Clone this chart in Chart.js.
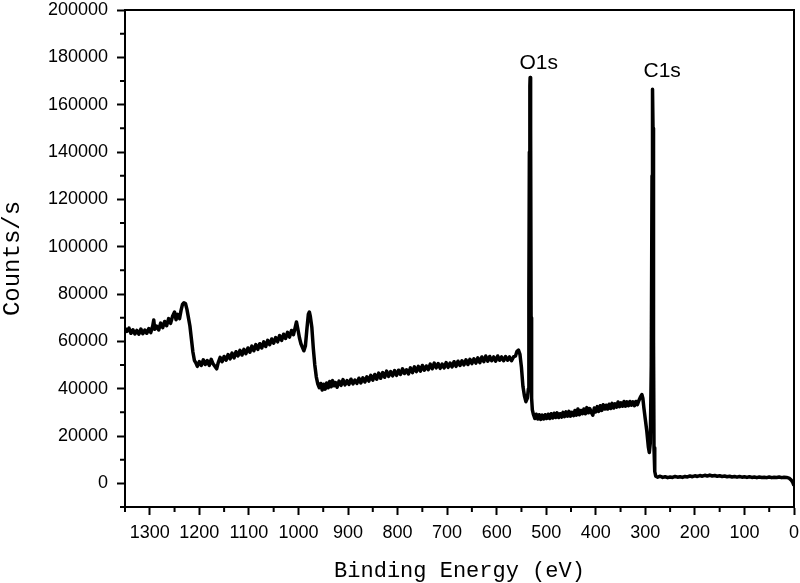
<!DOCTYPE html>
<html>
<head>
<meta charset="utf-8">
<script src="https://cdn.jsdelivr.net/npm/chart.js@4.4.0/dist/chart.umd.min.js"></script>
<style>
  html, body { margin: 0; padding: 0; background: #fff; }
  canvas { display: block; }
</style>
</head>
<body>
<canvas id="espectroXPS" width="800" height="583"></canvas>
<script>
// === Dados do espectro ===
const energia = [
  1350, 1346, 1342, 1338, 1334, 1330, 1326, 1322, 1318, 1314,
  1310, 1306, 1302, 1298, 1294, 1292, 1290, 1286, 1282, 1278,
  1274, 1270, 1266, 1262, 1258, 1254, 1250, 1247, 1244, 1240,
  1237, 1234, 1231, 1228, 1225, 1222, 1219, 1216, 1213, 1210,
  1207, 1204, 1200, 1196, 1192, 1188, 1184, 1180, 1176, 1172,
  1168, 1165, 1162, 1158, 1154, 1150, 1146, 1142, 1138, 1134,
  1130, 1126, 1122, 1118, 1114, 1110, 1106, 1102, 1098, 1094,
  1090, 1086, 1082, 1078, 1074, 1070, 1066, 1062, 1058, 1054,
  1050, 1046, 1042, 1038, 1034, 1030, 1026, 1022, 1018, 1014,
  1010, 1007, 1004, 1001, 998, 995, 992, 989, 986, 983,
  980, 978, 976, 973, 970, 967, 964, 961, 958, 955,
  952, 949, 946, 943, 940, 937, 934, 931, 928, 925,
  922, 918, 914, 910, 906, 902, 898, 894, 890, 886,
  882, 878, 874, 870, 866, 862, 858, 854, 850, 846,
  842, 838, 834, 830, 826, 822, 818, 814, 810, 806,
  802, 798, 794, 790, 786, 782, 778, 774, 770, 766,
  762, 758, 754, 750, 746, 742, 738, 734, 730, 726,
  722, 718, 714, 710, 706, 702, 698, 694, 690, 686,
  682, 678, 674, 670, 666, 662, 658, 654, 650, 646,
  642, 638, 634, 630, 626, 622, 618, 614, 610, 606,
  602, 598, 594, 590, 586, 582, 578, 574, 570, 566,
  562, 559, 556, 553, 550, 547, 544, 541, 538, 536,
  535, 534, 533, 532.5, 531.5, 530.5, 529.5, 528, 526, 523,
  520, 517, 514, 511, 508, 505, 502, 499, 496, 493,
  490, 487, 484, 481, 478, 475, 472, 469, 466, 463,
  460, 457, 454, 451, 448, 445, 442, 439, 436, 433,
  430, 427, 424, 421, 418, 415, 412, 409, 406, 403,
  400, 397, 394, 391, 388, 385, 382, 379, 376, 373,
  370, 367, 364, 361, 358, 355, 352, 349, 346, 343,
  340, 337, 334, 331, 328, 325, 322, 319, 316, 313,
  310, 307, 305, 303, 300, 297, 294, 292, 290, 288,
  286.5, 285.5, 284.5, 283.5, 282.5, 281, 279, 275, 270, 265,
  260, 255, 250, 245, 240, 235, 230, 225, 220, 215,
  210, 205, 200, 195, 190, 185, 180, 175, 170, 165,
  160, 155, 150, 145, 140, 135, 130, 125, 120, 115,
  110, 105, 100, 95, 90, 85, 80, 75, 70, 65,
  60, 55, 50, 45, 40, 35, 30, 25, 20, 15,
  10, 6, 3, 0
];

const contagens = [
  65500, 64200, 65600, 63400, 64900, 63100, 64600, 63000, 65200, 63200,
  64800, 63400, 65400, 63700, 66600, 69000, 65100, 66400, 64800, 67700,
  65800, 68400, 66600, 69600, 67600, 70600, 72400, 69100, 71400, 69600,
  73000, 75600, 76300, 76000, 73500, 70000, 66500, 61000, 55500, 52000,
  50900, 49400, 51400, 49800, 52200, 50200, 51900, 49800, 52400, 50400,
  49300, 48400, 50900, 53200, 51400, 53600, 52000, 54400, 52600, 55000,
  53000, 55600, 53800, 56200, 54200, 56600, 54800, 57200, 55400, 58000,
  56000, 58600, 56600, 59000, 57200, 59800, 57800, 60400, 58600, 61000,
  59200, 61600, 59800, 62400, 60400, 63000, 61200, 63800, 61800, 64600,
  62800, 65500, 68200, 65000, 61500, 59000, 57500, 56000, 58000, 65000,
  71500, 72400, 70500, 66000, 57000, 50000, 45000, 42000, 40400, 42200,
  39400, 41900, 39800, 42400, 40400, 43000, 40800, 43400, 41200, 42600,
  40600, 43200, 41400, 43800, 41600, 43400, 41800, 44000, 42000, 43600,
  42200, 44400, 42400, 44600, 42800, 45000, 43200, 45600, 43600, 46000,
  44000, 46600, 44400, 46800, 44800, 47400, 45200, 47200, 45400, 47600,
  45600, 47800, 46000, 48400, 46400, 48000, 46200, 48800, 46800, 49200,
  47200, 49400, 47400, 49800, 47800, 49600, 48000, 50400, 48400, 50800,
  48800, 50600, 48600, 50400, 48800, 51000, 49000, 50800, 49200, 51400,
  49400, 51600, 49800, 51800, 50000, 52200, 50200, 52400, 50600, 52600,
  50800, 53000, 51000, 53400, 51400, 53800, 51600, 53600, 51800, 53400,
  51600, 53800, 52000, 53400, 51800, 53600, 52000, 53400, 51800, 53400,
  53800, 55800, 56300, 54500, 49000, 41000, 37000, 34500, 36000, 40000,
  80000, 140000, 168000, 171500, 150000, 70000, 36000, 31000, 29200, 27400,
  29200, 27200, 29000, 27000, 28800, 27200, 29000, 27400, 29200, 27400,
  29400, 27600, 29600, 27800, 29800, 27800, 29400, 28000, 30000, 28200,
  30200, 28400, 30400, 28400, 30000, 28600, 30800, 28800, 31400, 29000,
  30800, 29400, 31400, 29400, 32000, 29800, 31600, 30000, 28800, 31800,
  30200, 32400, 30400, 32800, 30800, 33200, 31400, 33000, 31400, 33400,
  31600, 33800, 31800, 33600, 32200, 34400, 32400, 34000, 32600, 34600,
  32600, 34400, 32800, 34600, 33000, 34400, 32800, 34600, 33200, 35000,
  36400, 37500, 36000, 32000, 27000, 22000, 15500, 13000, 17000, 50000,
  130000, 166500, 150000, 60000, 15000, 5000, 3000, 2600, 3000, 2500,
  2800, 2400, 2700, 2500, 2900, 2600, 2800, 2500, 2900, 2700,
  3100, 2800, 3200, 2900, 3300, 3000, 3400, 3100, 3500, 3100,
  3300, 3000, 3200, 2900, 3100, 2800, 3000, 2700, 2900, 2600,
  2900, 2600, 2800, 2500, 2800, 2500, 2700, 2400, 2700, 2500,
  2600, 2400, 2700, 2400, 2600, 2500, 2700, 2400, 2600, 2500,
  2200, 1500, 600, -1000
];

// Marcas dos eixos
const ticksX = [0, 100, 200, 300, 400, 500, 600, 700, 800, 900, 1000, 1100, 1200, 1300];
const ticksY = [0, 20000, 40000, 60000, 80000, 100000, 120000, 140000, 160000, 180000, 200000];
const limitesX = [0, 1350];
const limitesY = [-10000, 200000];

// Rótulos dos picos (posição em eV / contagens)
const rotulosPicos = ["O1s", "C1s"];
const energiaRotulos = [515, 266];
const alturaRotulos = [177400, 174300];

// === Plugin: moldura, ticks menores e rótulos dos picos ===
const extrasPlugin = {
  id: "extras",
  afterDraw(chart) {
    const { ctx, chartArea: area, scales: { x, y } } = chart;
    ctx.save();
    ctx.strokeStyle = "#000";
    ctx.lineWidth = 2;

    // Moldura superior e direita
    ctx.beginPath();
    ctx.moveTo(area.left, area.top);
    ctx.lineTo(area.right, area.top);
    ctx.lineTo(area.right, area.bottom);
    ctx.stroke();

    // Ticks menores (no meio de cada intervalo, mais um no início)
    ctx.beginPath();
    ticksX.forEach((v) => {
      const px = x.getPixelForValue(v + 50);
      ctx.moveTo(px, area.bottom);
      ctx.lineTo(px, area.bottom + 5);
    });
    [limitesY[0]].concat(ticksY.slice(0, -1).map((v) => v + 10000)).forEach((v) => {
      const py = y.getPixelForValue(v);
      ctx.moveTo(area.left, py);
      ctx.lineTo(area.left - 5, py);
    });
    ctx.stroke();

    // Rótulos dos picos
    ctx.fillStyle = "#000";
    ctx.font = "21px 'Liberation Sans', Arial, sans-serif";
    ctx.textAlign = "center";
    ctx.textBaseline = "middle";
    rotulosPicos.forEach((texto, i) => {
      ctx.fillText(texto, x.getPixelForValue(energiaRotulos[i]), y.getPixelForValue(alturaRotulos[i]));
    });
    ctx.restore();
  }
};

// === Gráfico ===
const pontos = energia.map((e, i) => ({ x: e, y: contagens[i] }));
const fonteTicks = { family: "'Liberation Sans', Arial, sans-serif", size: 18 };
const fonteTitulo = "'Liberation Mono', 'DejaVu Sans Mono', monospace";

new Chart(document.getElementById("espectroXPS").getContext("2d"), {
  type: "line",
  data: {
    datasets: [{
      data: pontos,
      borderColor: "#000",
      borderWidth: 3.5,
      borderJoinStyle: "round",
      pointRadius: 0,
      tension: 0,
      fill: false
    }]
  },
  options: {
    responsive: false,
    animation: false,
    devicePixelRatio: 1,
    layout: { padding: { top: 10, right: 6, left: 0, bottom: 0 } },
    plugins: {
      legend: { display: false },
      tooltip: { enabled: false }
    },
    scales: {
      x: {
        type: "linear",
        reverse: true,
        min: limitesX[0],
        max: limitesX[1],
        afterFit: (scale) => { scale.height = 76; scale.paddingRight = 0; scale.paddingLeft = 0; },
        afterBuildTicks: (scale) => { scale.ticks = ticksX.map((v) => ({ value: v })); },
        ticks: {
          autoSkip: false,
          maxRotation: 0,
          color: "#000",
          font: fonteTicks,
          padding: 7,
          callback: (v) => String(v)
        },
        grid: { drawOnChartArea: false, tickLength: 8, tickColor: "#000", tickWidth: 2 },
        border: { color: "#000", width: 2 },
        title: {
          display: true,
          text: "Binding Energy (eV)",
          color: "#000",
          font: { family: fonteTitulo, size: 22, lineHeight: 1 },
          padding: { top: 0, bottom: 1 }
        }
      },
      y: {
        min: limitesY[0],
        max: limitesY[1],
        afterFit: (scale) => { scale.width = 125; scale.paddingTop = 0; scale.paddingBottom = 0; },
        afterBuildTicks: (scale) => { scale.ticks = ticksY.map((v) => ({ value: v })); },
        ticks: {
          autoSkip: false,
          color: "#000",
          font: fonteTicks,
          padding: 9,
          callback: (v) => String(v)
        },
        grid: { drawOnChartArea: false, tickLength: 8, tickColor: "#000", tickWidth: 2 },
        border: { color: "#000", width: 2 },
        title: {
          display: true,
          text: "Counts/s",
          color: "#000",
          font: { family: fonteTitulo, size: 24, lineHeight: 1 },
          padding: { top: 1, bottom: 0 }
        }
      }
    }
  },
  plugins: [extrasPlugin]
});
</script>
</body>
</html>
